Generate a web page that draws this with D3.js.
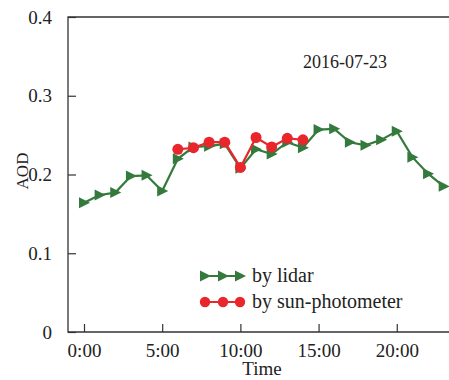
<!DOCTYPE html>
<html>
<head>
<meta charset="utf-8">
<script src="https://cdn.jsdelivr.net/npm/d3@7"></script>
<style>
  body { margin: 0; background: #fff; }
  text { font-family: "Liberation Serif", "DejaVu Serif", serif; fill: #222; }
</style>
</head>
<body>
<svg id="chart"></svg>
<script>
// hours of day
const lidarHours = d3.range(0, 24);
const lidarAOD = [0.164, 0.174, 0.177, 0.198, 0.199, 0.179, 0.220, 0.235, 0.236, 0.239,
                  0.208, 0.232, 0.226, 0.241, 0.234, 0.257, 0.258, 0.241, 0.237, 0.244,
                  0.255, 0.222, 0.201, 0.185];
const sunHours = [6, 7, 8, 9, 10, 11, 12, 13, 14];
const sunAOD = [0.232, 0.234, 0.241, 0.241, 0.209, 0.247, 0.235, 0.246, 0.244];
const xTicks = [0, 5, 10, 15, 20];
const xTickLabels = ["0:00", "5:00", "10:00", "15:00", "20:00"];
const yTicks = [0, 0.1, 0.2, 0.3, 0.4];
const seriesNames = ["by lidar", "by sun-photometer"];

const W = 449, H = 380;
const green = "#347a3c", red = "#e8262b";

let svg = d3.select('#chart')
  .attr('width', W)
  .attr('height', H);

let x = d3.scaleLinear().domain([-1.023, 23.34]).range([68, 449]);
let y = d3.scaleLinear().domain([0, 0.4]).range([332, 17]);

// frame
svg.append("path")
  .attr("d", `M449,17H68V332H449`)
  .attr("fill", "none")
  .attr("stroke", "#333")
  .attr("stroke-width", 1.3);

// axes with inward ticks
let xAxis = svg.append("g")
  .attr("transform", "translate(0,332)")
  .call(d3.axisBottom(x).tickValues(xTicks).tickFormat((d, i) => xTickLabels[i])
    .tickSizeInner(-8).tickSizeOuter(0).tickPadding(12));
xAxis.select(".domain").remove();
xAxis.selectAll("line").attr("stroke", "#333").attr("stroke-width", 1.2);
xAxis.selectAll("text").attr("font-size", 19).attr("font-family", "Liberation Serif").attr("fill", "#222");

let yAxis = svg.append("g")
  .attr("transform", "translate(68,0)")
  .call(d3.axisLeft(y).tickValues(yTicks).tickFormat(d => d === 0 ? "0" : d3.format(".1f")(d))
    .tickSizeInner(-8).tickSizeOuter(0).tickPadding(16));
yAxis.select(".domain").remove();
yAxis.selectAll("line").attr("stroke", "#333").attr("stroke-width", 1.2);
yAxis.selectAll("text").attr("font-size", 19).attr("font-family", "Liberation Serif").attr("fill", "#222");

// axis titles
svg.append("text")
  .attr("x", 262).attr("y", 375)
  .attr("text-anchor", "middle")
  .attr("font-size", 19)
  .text("Time");

svg.append("text")
  .attr("transform", "translate(28,171) rotate(-90)")
  .attr("text-anchor", "middle")
  .attr("font-size", 17)
  .text("AOD");

svg.append("text")
  .attr("x", 345).attr("y", 68)
  .attr("text-anchor", "middle")
  .attr("font-size", 18)
  .text("2016-07-23");

const tri = d3.symbol().type({
  draw(ctx, size) {
    ctx.moveTo(-5, -5.5);
    ctx.lineTo(6, 0);
    ctx.lineTo(-5, 5.5);
    ctx.closePath();
  }
})();

let line = d3.line().x(d => x(d[0])).y(d => y(d[1]));

let lidar = lidarHours.map((h, i) => [h, lidarAOD[i]]);
let sun = sunHours.map((h, i) => [h, sunAOD[i]]);

svg.append("path")
  .datum(lidar)
  .attr("d", line)
  .attr("fill", "none")
  .attr("stroke", green)
  .attr("stroke-width", 2.2);

svg.selectAll(".tri")
  .data(lidar)
  .enter()
  .append("path")
  .attr("class", "tri")
  .attr("d", tri)
  .attr("transform", d => `translate(${x(d[0])},${y(d[1])})`)
  .attr("fill", green);

svg.append("path")
  .datum(sun)
  .attr("d", line)
  .attr("fill", "none")
  .attr("stroke", red)
  .attr("stroke-width", 2.2);

svg.selectAll(".dot")
  .data(sun)
  .enter()
  .append("circle")
  .attr("class", "dot")
  .attr("cx", d => x(d[0]))
  .attr("cy", d => y(d[1]))
  .attr("r", 5.5)
  .attr("fill", red);

// legend
const legendX = [205, 223, 240];
let leg = svg.append("g");
[276, 302].forEach((ly, k) => {
  let col = k === 0 ? green : red;
  leg.append("line")
    .attr("x1", 202).attr("x2", 243)
    .attr("y1", ly).attr("y2", ly)
    .attr("stroke", col).attr("stroke-width", 2.2);
  legendX.forEach(lx => {
    if (k === 0) {
      leg.append("path").attr("d", tri)
        .attr("transform", `translate(${lx},${ly})`).attr("fill", col);
    } else {
      leg.append("circle").attr("cx", lx).attr("cy", ly).attr("r", 5.2).attr("fill", col);
    }
  });
  leg.append("text")
    .attr("x", 252).attr("y", ly + 6)
    .attr("font-size", 20)
    .text(seriesNames[k]);
});
</script>
</body>
</html>
